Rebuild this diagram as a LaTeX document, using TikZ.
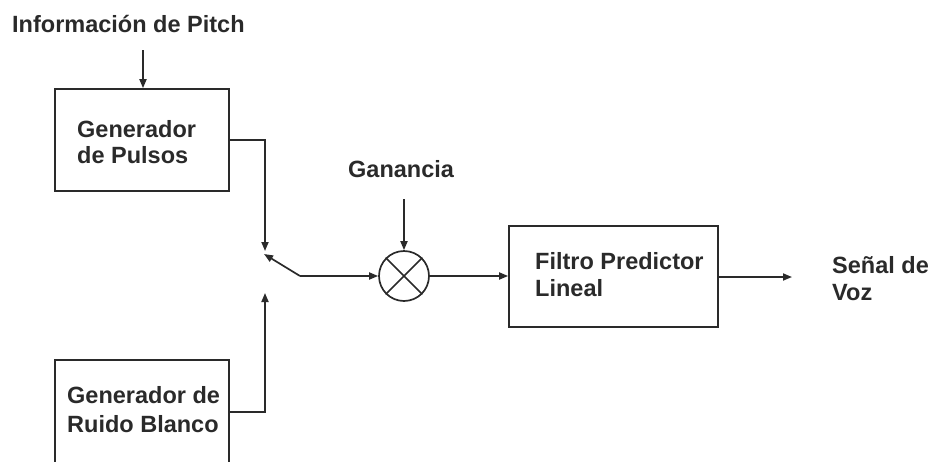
\documentclass[tikz,border=0pt]{standalone}
\usepackage{fontspec}
\setmainfont{Liberation Sans}
\usetikzlibrary{arrows.meta}
\definecolor{ink}{HTML}{2A2A2A}
\tikzset{
  blk/.style={draw=ink, line width=1.7pt, rectangle, inner sep=0pt},
  lbl/.style={anchor=base west, inner sep=0pt, text=ink, font=\fontsize{23.5}{27}\selectfont\bfseries},
  wire/.style={draw=ink, line width=1.7pt},
  arr/.style={wire, -{Triangle[length=9pt,width=7pt]}},
}
\begin{document}
\begin{tikzpicture}[x=1pt,y=-1pt]
\useasboundingbox (0,0) rectangle (928,461);
\clip (0,0) rectangle (928,461);
% boxes
\node[blk, minimum width=174pt, minimum height=102pt] (pulsos) at (142,140) {};
\node[blk, minimum width=174pt, minimum height=112pt] (ruido) at (142,416) {};
\node[blk, minimum width=209pt, minimum height=101pt] (filtro) at (613.5,276.5) {};
\node[draw=ink, line width=1.7pt, circle, minimum size=50pt, inner sep=0pt] (mult) at (404,276) {};
\draw[wire] (mult.north west) -- (mult.south east) (mult.north east) -- (mult.south west);
% texts
\node[lbl] (tpitch) at (12,32) {Información de Pitch};
\node[lbl] (tpul1) at (77,137) {Generador};
\node[lbl] (tpul2) at (77,163) {de Pulsos};
\node[lbl] (tgan) at (348,177) {Ganancia};
\node[lbl] (tfil1) at (535,269) {Filtro Predictor};
\node[lbl] (tfil2) at (535,296) {Lineal};
\node[lbl] (tsen1) at (832,273) {Señal de};
\node[lbl] (tsen2) at (832,300) {Voz};
\node[lbl] (trui1) at (67,403) {Generador de};
\node[lbl] (trui2) at (67,432) {Ruido Blanco};
% coordinates
\coordinate (pin) at (143,50);
\coordinate (gin) at (404,199);
\coordinate (c1) at (265,140);
\coordinate (s1) at (265,251);
\coordinate (c2) at (265,412);
\coordinate (s2) at (265,293);
\coordinate (piv) at (300,276);
\coordinate (lev) at (264,254);
\coordinate (out) at (792,277);
% connectors
\draw[arr] (pin) -- (pin |- pulsos.north);
\draw[arr] (gin) -- (mult.north);
\draw[arr] (pulsos.east |- c1) -- (c1) -- (s1);
\draw[arr] (ruido.east |- c2) -- (c2) -- (s2);
\draw[arr] (piv) -- (lev);
\draw[arr] (piv) -- (mult.west);
\draw[arr] (mult.east) -- (filtro.west |- mult.east);
\draw[arr] (filtro.east |- out) -- (out);
\end{tikzpicture}
\end{document}
